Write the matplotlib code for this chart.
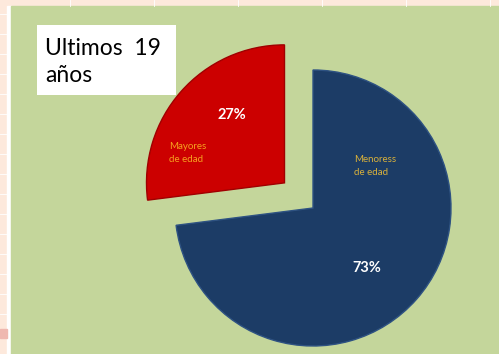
import matplotlib
matplotlib.use('Agg')
import matplotlib.pyplot as plt
from matplotlib.patches import Rectangle

# Data
categories = ['Menoress\nde edad', 'Mayores\nde edad']
shares = [73, 27]
pct_labels = ['73%', '27%']
title_text = 'Ultimos  19\naños'

plt.rcParams['font.family'] = ['Lato', 'DejaVu Sans']

W, H = 499, 354
fig = plt.figure(figsize=(W / 100, H / 100), dpi=100)
fig.patch.set_facecolor('#fde9dc')

# whole-figure axes in pixel units (y measured upward)
ax = fig.add_axes([0, 0, 1, 1])

# spreadsheet strip + chart area
ax.add_patch(Rectangle((7, 0), 4, H - 6, color='white', zorder=0))
ax.add_patch(Rectangle((11, 0), W - 11, H - 6, color='#c4d69b', zorder=1))
for gx in range(70, W, 84):
    ax.plot([gx, gx], [H - 6, H], color='white', lw=0.6, zorder=1)
for gy in range(20, H, 20):
    ax.plot([0, 7], [gy, gy], color='white', lw=0.6, zorder=1)
ax.add_patch(Rectangle((0, 16), 7, 9, color='#efb8b0', zorder=1))

center = (313, H - 208)
radius = 138
wedges, _ = ax.pie(shares, colors=['#1c3c66', '#cc0000'], startangle=90,
                   counterclock=False, center=center, radius=radius,
                   explode=[0, 38], frame=True,
                   wedgeprops=dict(edgecolor='#2e5282', linewidth=1.0))
wedges[1].set_edgecolor('#a00000')
for w in wedges:
    w.set_zorder(3)
ax.set_xlim(0, W)
ax.set_ylim(0, H)
ax.set_aspect('auto')
ax.axis('off')

# percentages
ax.text(367, H - 268, pct_labels[0], color='white', fontsize=10.5,
        fontweight='bold', ha='center', va='center', zorder=5)
ax.text(232, H - 115, pct_labels[1], color='white', fontsize=10.5,
        fontweight='bold', ha='center', va='center', zorder=5)
# category labels
ax.text(354, H - 166, categories[0], color='#d9b13b', fontsize=7,
        ha='left', va='center', linespacing=1.5, zorder=5)
ax.text(169, H - 153, categories[1], color='#f6a21f', fontsize=7,
        ha='left', va='center', linespacing=1.5, zorder=5)

# title box
ax.add_patch(Rectangle((37, H - 95), 139, 70, facecolor='white',
                       edgecolor='none', zorder=4))
ax.text(45, H - 62, title_text, color='black', fontsize=16.5,
        ha='left', va='center', linespacing=1.3, zorder=5)

fig.savefig('out.png', dpi=100, facecolor=fig.get_facecolor())
plt.close(fig)
